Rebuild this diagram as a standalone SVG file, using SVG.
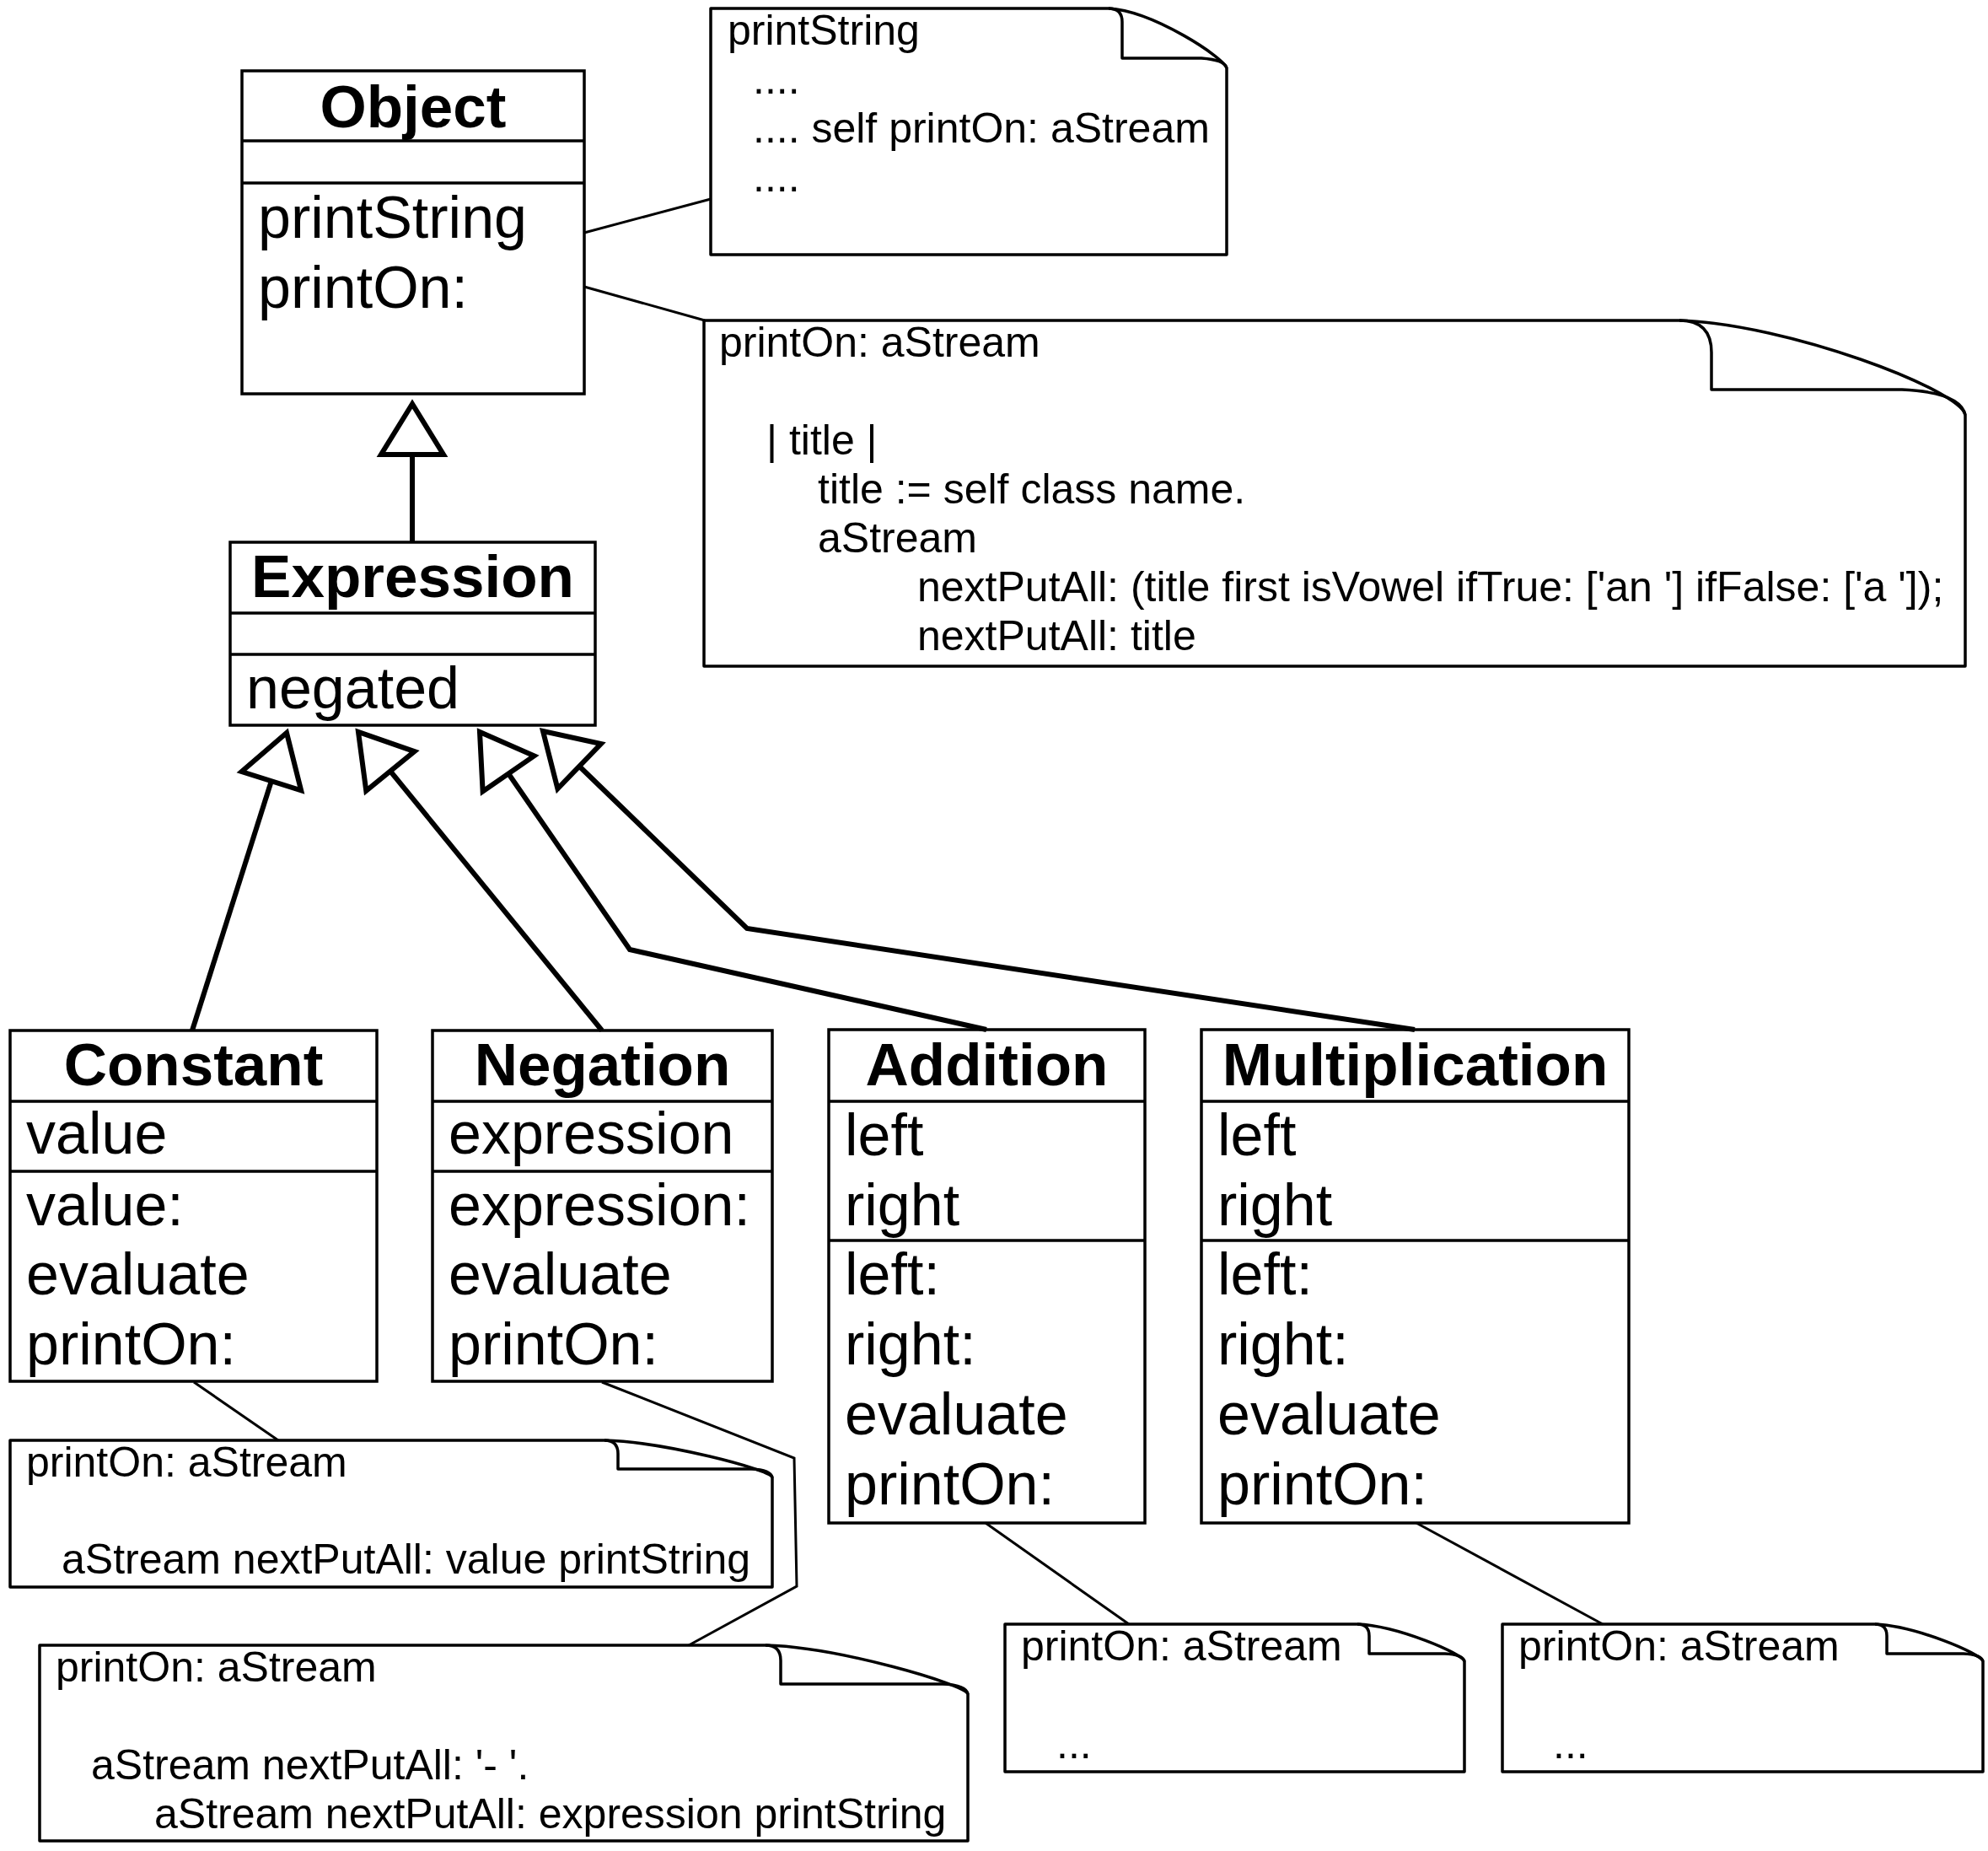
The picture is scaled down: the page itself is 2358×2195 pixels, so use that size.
<svg xmlns="http://www.w3.org/2000/svg" width="2358" height="2195" viewBox="0 0 2358 2195">
<style>
.box{fill:#fff;stroke:#000;stroke-width:3.5}
.dv{stroke:#000;stroke-width:3.5}
text{font-family:"Liberation Sans",Arial,Helvetica,sans-serif;fill:#000}
.hdr{font-weight:bold;font-size:71px;text-anchor:middle}
.mem{font-size:70px}
.nt{fill:#fff;stroke:#000;stroke-width:3.5;stroke-linejoin:round}
.fold{fill:none;stroke:#000;stroke-width:3.5;stroke-linejoin:round}
.ntx{font-size:50px;white-space:pre}
.gen{fill:none;stroke:#000;stroke-width:6;marker-end:url(#tri)}
.anc{fill:none;stroke:#000;stroke-width:3}
</style>
<defs>
<marker id="tri" markerUnits="userSpaceOnUse" markerWidth="80" markerHeight="90" refX="60" refY="40" orient="auto" overflow="visible">
<path d="M60,40 L0,3 L0,77 Z" fill="#fff" stroke="#000" stroke-width="6" stroke-linejoin="miter"/>
</marker>
</defs>
<rect width="2358" height="2195" fill="#fff"/>

<g id="Object">
<rect class="box" x="287" y="84" width="406" height="383"/>
<line class="dv" x1="287" y1="167" x2="693" y2="167"/>
<line class="dv" x1="287" y1="217" x2="693" y2="217"/>
<text class="hdr" x="490" y="151">Object</text>
<text class="mem" x="306" y="282">printString</text>
<text class="mem" x="306" y="365">printOn:</text>
</g>

<g id="Expression">
<rect class="box" x="273" y="643" width="433" height="217"/>
<line class="dv" x1="273" y1="727" x2="706" y2="727"/>
<line class="dv" x1="273" y1="776" x2="706" y2="776"/>
<text class="hdr" x="489.5" y="708">Expression</text>
<text class="mem" x="292" y="840">negated</text>
</g>

<g id="Constant">
<rect class="box" x="12" y="1222" width="435" height="416"/>
<line class="dv" x1="12" y1="1306" x2="447" y2="1306"/>
<line class="dv" x1="12" y1="1389" x2="447" y2="1389"/>
<text class="hdr" x="229.5" y="1287">Constant</text>
<text class="mem" x="31" y="1368">value</text>
<text class="mem" x="31" y="1453">value:</text>
<text class="mem" x="31" y="1535">evaluate</text>
<text class="mem" x="31" y="1618">printOn:</text>
</g>

<g id="Negation">
<rect class="box" x="513" y="1222" width="403" height="416"/>
<line class="dv" x1="513" y1="1306" x2="916" y2="1306"/>
<line class="dv" x1="513" y1="1389" x2="916" y2="1389"/>
<text class="hdr" x="714.5" y="1287">Negation</text>
<text class="mem" x="532" y="1368">expression</text>
<text class="mem" x="532" y="1453">expression:</text>
<text class="mem" x="532" y="1535">evaluate</text>
<text class="mem" x="532" y="1618">printOn:</text>
</g>

<g id="Addition">
<rect class="box" x="983" y="1221" width="375" height="585"/>
<line class="dv" x1="983" y1="1306" x2="1358" y2="1306"/>
<line class="dv" x1="983" y1="1471" x2="1358" y2="1471"/>
<text class="hdr" x="1170.5" y="1287">Addition</text>
<text class="mem" x="1002" y="1370">left</text>
<text class="mem" x="1002" y="1453">right</text>
<text class="mem" x="1002" y="1535">left:</text>
<text class="mem" x="1002" y="1618">right:</text>
<text class="mem" x="1002" y="1701">evaluate</text>
<text class="mem" x="1002" y="1784">printOn:</text>
</g>

<g id="Multiplication">
<rect class="box" x="1425" y="1221" width="507" height="585"/>
<line class="dv" x1="1425" y1="1306" x2="1932" y2="1306"/>
<line class="dv" x1="1425" y1="1471" x2="1932" y2="1471"/>
<text class="hdr" x="1678.5" y="1287">Multiplication</text>
<text class="mem" x="1444" y="1370">left</text>
<text class="mem" x="1444" y="1453">right</text>
<text class="mem" x="1444" y="1535">left:</text>
<text class="mem" x="1444" y="1618">right:</text>
<text class="mem" x="1444" y="1701">evaluate</text>
<text class="mem" x="1444" y="1784">printOn:</text>
</g>

<g id="NotePrintString">
<path class="nt" d="M843,10 H1315 C1368,13 1453,69 1455,81 V302 H843 Z"/>
<path class="fold" d="M1315,10 Q1331,10 1331,26 V69 H1425 Q1453,71 1455,81"/>
<text class="ntx" x="863" y="53">printString</text>
<text class="ntx" x="893" y="111">....</text>
<text class="ntx" x="893" y="169">.... self printOn: aStream</text>
<text class="ntx" x="893" y="227">....</text>
</g>

<g id="NoteObjectPrintOn">
<path class="nt" d="M835,380 H1992 C2120,384 2325,462 2331,492 V790 H835 Z"/>
<path class="fold" d="M1992,380 Q2030,380 2030,418 V462 H2256 Q2325,465 2331,492"/>
<text class="ntx" x="853" y="423">printOn: aStream</text>
<text class="ntx" x="909" y="539">| title |</text>
<text class="ntx" x="970" y="597">title := self class name.</text>
<text class="ntx" x="970" y="655">aStream</text>
<text class="ntx" x="1088" y="713">nextPutAll: (title first isVowel ifTrue: ['an '] ifFalse: ['a ']);</text>
<text class="ntx" x="1088" y="771">nextPutAll: title</text>
</g>

<g id="NoteConstant">
<path class="nt" d="M12,1708 H717 C788,1710 912,1742 916,1752 V1882 H12 Z"/>
<path class="fold" d="M717,1708 Q733,1708 733,1724 V1742 H891 Q914,1743 916,1752"/>
<text class="ntx" x="31" y="1751">printOn: aStream</text>
<text class="ntx" x="73" y="1866">aStream nextPutAll: value printString</text>
</g>

<g id="NoteNegation">
<path class="nt" d="M47,1951 H908 C993,1953 1144,1997 1148,2009 V2183 H47 Z"/>
<path class="fold" d="M908,1951 Q926,1951 926,1969 V1997 H1118 Q1146,1998 1148,2009"/>
<text class="ntx" x="66" y="1994">printOn: aStream</text>
<text class="ntx" x="108" y="2110">aStream nextPutAll: '- '.</text>
<text class="ntx" x="183" y="2168">aStream nextPutAll: expression printString</text>
</g>

<g id="NoteAddition">
<path class="nt" d="M1192,1926 H1610 C1658,1928 1735,1961 1737,1970 V2101 H1192 Z"/>
<path class="fold" d="M1610,1926 Q1624,1926 1624,1940 V1961 H1714 Q1735,1962 1737,1970"/>
<text class="ntx" x="1211" y="1969">printOn: aStream</text>
<text class="ntx" x="1253" y="2085">...</text>
</g>

<g id="NoteMultiplication">
<path class="nt" d="M1782,1926 H2224 C2272,1928 2350,1961 2352,1970 V2101 H1782 Z"/>
<path class="fold" d="M2224,1926 Q2238,1926 2238,1940 V1961 H2329 Q2350,1962 2352,1970"/>
<text class="ntx" x="1801" y="1969">printOn: aStream</text>
<text class="ntx" x="1842" y="2085">...</text>
</g>

<g id="connectors">
<path class="gen" d="M489,643 L489,479"/>
<path class="gen" d="M228,1222 L340,869"/>
<path class="gen" d="M714,1222 L425,868"/>
<path class="gen" d="M1170,1221 L747,1126 L569,868"/>
<path class="gen" d="M1678,1221 L886,1101 L644,867"/>
<path class="anc" d="M693,276 L843,236"/>
<path class="anc" d="M693,340 L836,380"/>
<path class="anc" d="M230,1639 L330,1708"/>
<path class="anc" d="M714,1639 L942,1729 L945,1881 L817,1951"/>
<path class="anc" d="M1169,1806 L1339,1926"/>
<path class="anc" d="M1680,1806 L1901,1926"/>
</g>
</svg>
